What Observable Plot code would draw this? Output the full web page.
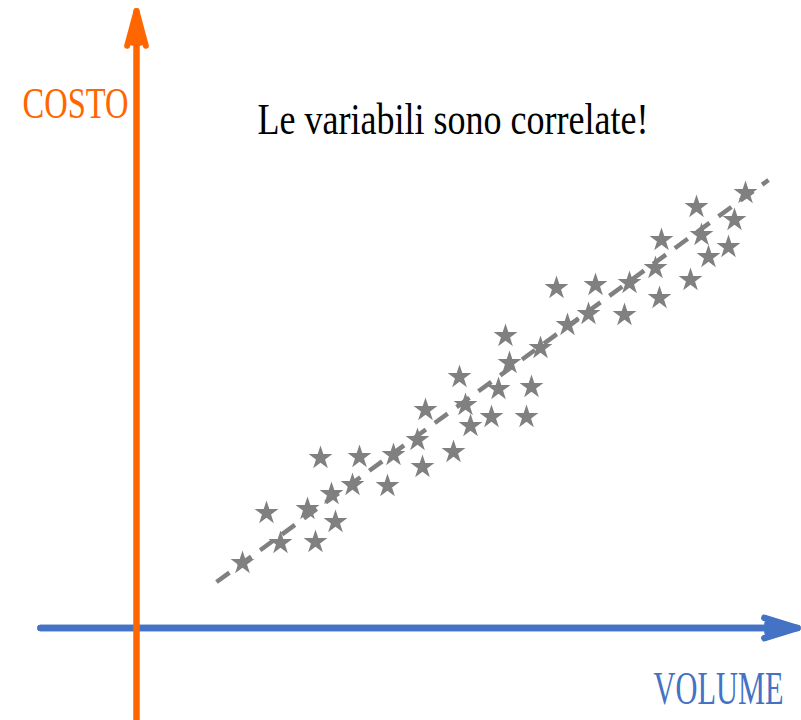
<!DOCTYPE html>
<html><head><meta charset="utf-8">
<script src="https://cdn.jsdelivr.net/npm/d3@7"></script>
<script src="https://cdn.jsdelivr.net/npm/@observablehq/plot@0.6"></script>
<style>html,body{margin:0;padding:0;background:#fff}#chart svg{display:block}</style>
</head><body><div id="chart"></div>
<script>
const volume = [10.6, 14.4, 17.9, 13.0, 17.1, 19.9, 19.5, 18.4, 21.6, 22.3, 25.1, 25.7, 28.1, 28.6, 31.7,
  28.9, 33.4, 32.9, 32.3, 35.5, 36.2, 39.0, 39.5, 37.3, 36.9, 40.4, 43.1,
  42.0, 45.2, 45.9, 48.8, 49.3, 52.3, 51.9, 52.5, 55.4, 57.2, 59.2, 56.5, 59.8, 56.0, 60.9];
const costo = [6.5, 8.5, 8.6, 11.5, 11.9, 10.6, 13.4, 17.0, 14.3, 17.1, 14.2, 17.3, 18.8, 16.1, 17.6,
  21.8, 20.2, 22.3, 25.1, 21.1, 23.9, 21.1, 24.1, 26.5, 29.2, 28.0, 30.3,
  34.0, 31.4, 34.3, 31.3, 34.5, 33.0, 36.0, 38.8, 34.8, 37.1, 38.1, 39.3, 40.8, 42.1, 43.5];
const trendVolume = [8.0, 63.2];
const trendCosto = [4.6, 44.8];
const titleText = "Le variabili sono correlate!";
const xLabel = "VOLUME";
const yLabel = "COSTO";

const points = volume.map((v, i) => ({volume: v, costo: costo[i]}));
const trend = trendVolume.map((v, i) => ({volume: v, costo: trendCosto[i]}));

const ORANGE = "#FF6600", BLUE = "#4472C4", GRAY = "#808080";
const FONT = "Liberation Serif";

const plot = Plot.plot({
  width: 801, height: 720,
  marginTop: 0, marginRight: 0, marginBottom: 0, marginLeft: 0,
  x: {domain: [-13.6, 66.5], axis: null},
  y: {domain: [-9.25, 62.75], axis: null},
  style: {background: "white", overflow: "hidden", fontFamily: FONT},
  marks: [
    Plot.arrow({length: 1}, {x1: -9.6, x2: 66.1, y1: 0, y2: 0, stroke: BLUE, strokeWidth: 6.5, headLength: 8, headAngle: 34}),
    Plot.arrow({length: 1}, {x1: -9.6, x2: 66.1, y1: 0, y2: 0, stroke: BLUE, strokeWidth: 6.5, headLength: 7, headAngle: 16}),
    Plot.arrow({length: 1}, {x1: 0, x2: 0, y1: -12, y2: 61.7, stroke: ORANGE, strokeWidth: 6, headLength: 9, headAngle: 30}),
    Plot.arrow({length: 1}, {x1: 0, x2: 0, y1: -12, y2: 61.7, stroke: ORANGE, strokeWidth: 6, headLength: 8, headAngle: 14}),
    Plot.line(trend, {x: "volume", y: "costo", stroke: GRAY, strokeWidth: 4.5, strokeDasharray: "16,11", strokeLinecap: "butt"}),
    Plot.dot(points, {x: "volume", y: "costo", symbol: "star", r: 7.5, fill: GRAY, stroke: "none"}),
    Plot.text([titleText], {x: 12.1, y: 49.45, text: d => d, textAnchor: "start", lineAnchor: "bottom", fontSize: 45, fill: "black", className: "t-title"}),
    Plot.text([yLabel], {x: -0.8, y: 51.05, text: d => d, textAnchor: "end", lineAnchor: "bottom", fontSize: 45, fill: ORANGE, className: "t-ylab"}),
    Plot.text([xLabel], {x: 51.7, y: -7.55, text: d => d, textAnchor: "start", lineAnchor: "bottom", fontSize: 33, fill: BLUE, className: "t-xlab"})
  ]
});
document.getElementById("chart").appendChild(plot);

const fit = {"t-title": 391, "t-ylab": 106, "t-xlab": 130};
for (const [cls, len] of Object.entries(fit)) {
  d3.select(plot).selectAll(`g.${cls} text`).attr("textLength", len).attr("lengthAdjust", "spacingAndGlyphs");
}
// stretch the smaller VOLUME label vertically to the reference's letter height
d3.select(plot).selectAll("g.t-xlab text").each(function() {
  const t = d3.select(this);
  const tr = t.attr("transform") || "";
  t.attr("transform", tr + " scale(1,1.39)");
});
</script>
</body></html>
